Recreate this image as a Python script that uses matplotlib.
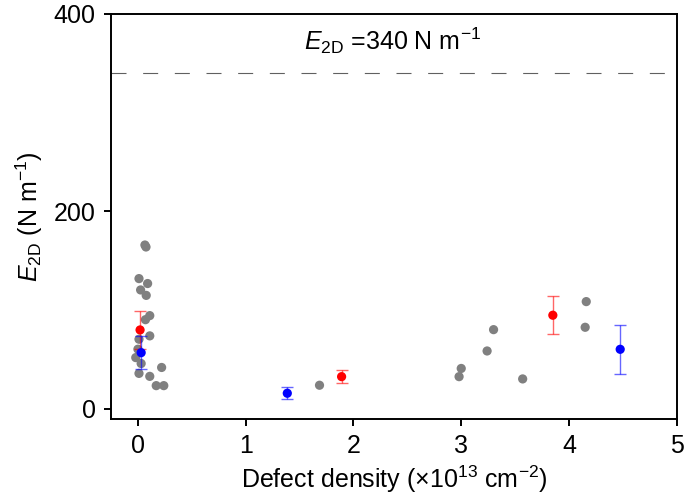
import matplotlib
matplotlib.use("Agg")
import matplotlib.pyplot as plt

plt.rcParams["font.family"] = ["Liberation Sans", "DejaVu Sans"]
plt.rcParams["mathtext.fontset"] = "custom"
plt.rcParams["mathtext.rm"] = "Liberation Sans"
plt.rcParams["mathtext.it"] = "Liberation Sans:italic"

# individual measurements (grey)
gray_x = [0.065, 0.075, 0.01, 0.09, 0.025, 0.077, 0.11, 0.07, 0.01, 0.11, 0.0, -0.02,
          0.03, 0.01, 0.22, 0.11, 0.17, 0.24,
          1.685, 2.98, 3.0, 3.24, 3.30, 3.57, 4.16, 4.15]
gray_y = [166, 164, 132, 127, 120.5, 115, 94.5, 90.4, 70.6, 74, 60.5, 52,
          46, 36, 42, 33, 23.6, 23.6,
          24, 32.7, 41, 58.7, 80.3, 30.4, 108.7, 82.7]

# averages with error bars
red_x = [0.02, 1.89, 3.85]
red_y = [80, 32.7, 94.9]
red_err = [19, 6.7, 19]

blue_x = [0.03, 1.386, 4.475]
blue_y = [57, 15.9, 60.4]
blue_err = [17, 6, 25]

E_REF = 340

fig = plt.figure(figsize=(6.85, 4.98), dpi=100)
ax = fig.add_axes([0.162, 0.159, 0.826, 0.813])

ax.axhline(E_REF, color="#606060", lw=0.8, dashes=(13.5, 15), zorder=1)
ax.text(2.36, 373, r"$E_{\rm 2D}$ =340 N m$^{-1}$", fontsize=18,
        ha="center", va="center")

ax.scatter(gray_x, gray_y, s=44, color="#808080", edgecolors="none", zorder=2)

ax.errorbar(red_x, red_y, yerr=red_err, fmt="none", ecolor="#ff0000", alpha=0.6,
            elinewidth=1, capsize=4.5, capthick=1, zorder=3)
ax.scatter(red_x, red_y, s=44, color="#ff0000", edgecolors="none", zorder=4)

ax.errorbar(blue_x, blue_y, yerr=blue_err, fmt="none", ecolor="#0000ff", alpha=0.6,
            elinewidth=1, capsize=4.5, capthick=1, zorder=5)
ax.scatter(blue_x, blue_y, s=44, color="#0000ff", edgecolors="none", zorder=6)

ax.set_xlim(-0.25, 5)
ax.set_ylim(-10, 400)
ax.set_xticks([0, 1, 2, 3, 4, 5])
ax.set_yticks([0, 200, 400])

for sp in ax.spines.values():
    sp.set_linewidth(1.4)
ax.tick_params(direction="out", length=5, width=1.4, labelsize=18, pad=6)

ax.set_xlabel(r"Defect density ($\times$10$^{13}$ cm$^{-2}$)", fontsize=18, labelpad=4)
ax.set_ylabel(r"$E_{\rm 2D}$ (N m$^{-1}$)", fontsize=18, labelpad=6)

fig.savefig("out.png", dpi=100)
